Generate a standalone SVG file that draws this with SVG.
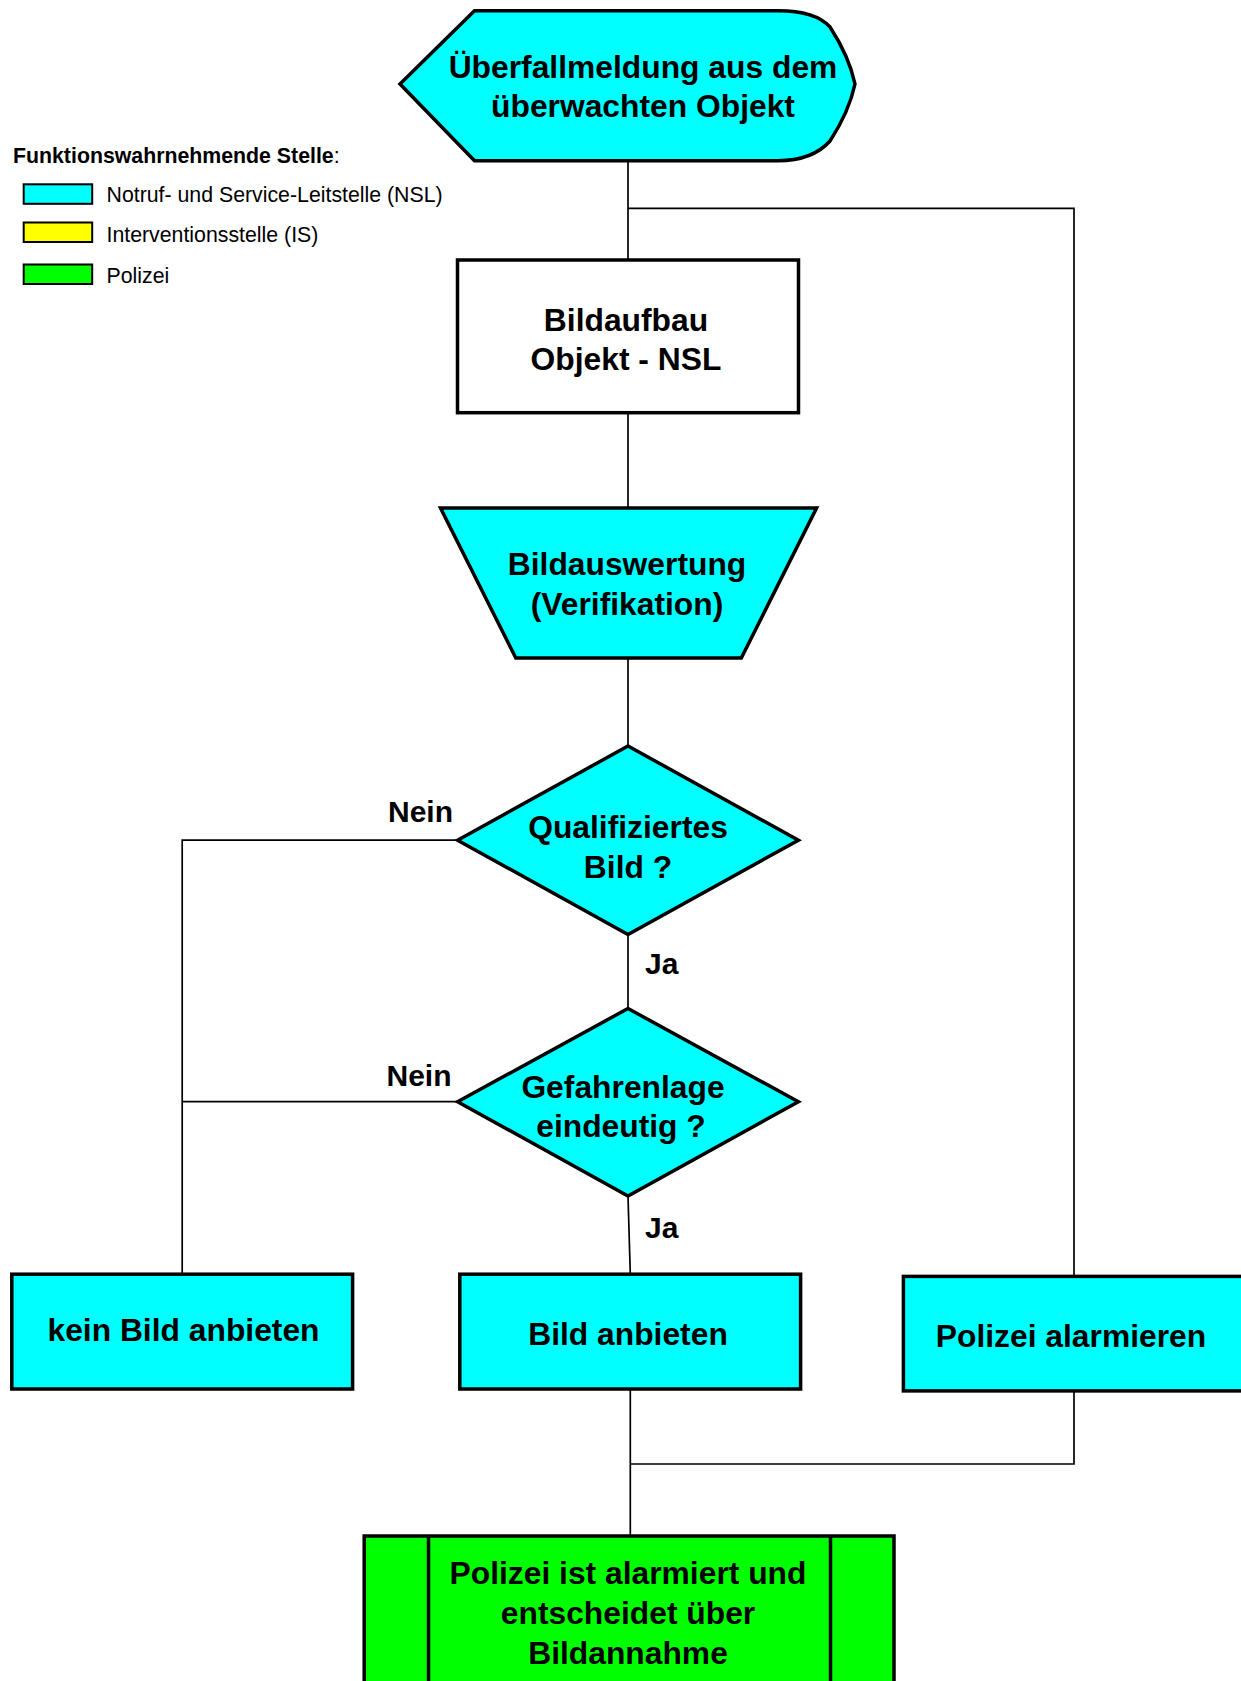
<svg xmlns="http://www.w3.org/2000/svg" width="1241" height="1681" viewBox="0 0 1241 1681">
<style>
.node{stroke:#000;stroke-width:3.5;stroke-linejoin:miter}
.cyan{fill:#00FFFF}
.green{fill:#00FF00}
.white{fill:#FFFFFF}
.conn{fill:none;stroke:#000;stroke-width:1.7}
.t{font-family:"Liberation Sans",Arial,sans-serif;font-weight:bold;font-size:31.8px;fill:#000;text-anchor:middle}
.lbl{font-family:"Liberation Sans",Arial,sans-serif;font-weight:bold;font-size:30px;fill:#000}
.leg{font-family:"Liberation Sans",Arial,sans-serif;font-size:21.3px;fill:#000}
.legbox{stroke:#000;stroke-width:2}
</style>
<rect width="1241" height="1681" fill="#FFFFFF"/>
<g id="connectors">
<path class="conn" d="M628,160.7 V260"/>
<path class="conn" d="M628,208.3 H1074 V1276.4"/>
<path class="conn" d="M628,412.7 V508"/>
<path class="conn" d="M628,658 V746"/>
<path class="conn" d="M628,934.5 V1008.5"/>
<path class="conn" d="M457.6,840.2 H182.2 V1274.2"/>
<path class="conn" d="M457.6,1101.7 H182.2"/>
<path class="conn" d="M628,1196 L630.3,1274.2"/>
<path class="conn" d="M630.3,1389 V1536"/>
<path class="conn" d="M1074,1391 V1464 H630.3"/>
</g>
<g id="legend">
<text class="leg" x="13" y="163" font-size="21.6"><tspan font-weight="bold">Funktionswahrnehmende Stelle</tspan>:</text>
<rect class="legbox cyan" x="23.7" y="184.3" width="68.5" height="19.5"/>
<text class="leg" x="106.5" y="202">Notruf- und Service-Leitstelle (NSL)</text>
<rect class="legbox" fill="#FFFF00" x="23.7" y="222.5" width="68.5" height="19.5"/>
<text class="leg" x="106.5" y="242">Interventionsstelle (IS)</text>
<rect class="legbox green" x="23.7" y="264.5" width="68.5" height="19.5"/>
<text class="leg" x="106.5" y="283">Polizei</text>
</g>
<g id="start">
<path class="node cyan" d="M400,84 L474.5,10.7 H778 C808,10.7 822,18 830,27 C845,50 852,70 855,84 C852,98 845,118 830,141 C822,150 808,160.7 778,160.7 H474.5 Z"/>
<text class="t" x="643" y="77.5">Überfallmeldung aus dem</text>
<text class="t" x="643" y="117">überwachten Objekt</text>
</g>
<g id="bildaufbau">
<rect class="node white" x="457.5" y="260" width="341" height="152.7"/>
<text class="t" x="626" y="330.7">Bildaufbau</text>
<text class="t" x="626" y="370">Objekt - NSL</text>
</g>
<g id="bildauswertung">
<path class="node cyan" d="M440.5,508 H816.6 L741.3,658 H515.8 Z"/>
<text class="t" x="627" y="575">Bildauswertung</text>
<text class="t" x="627" y="615">(Verifikation)</text>
</g>
<g id="qualifiziert">
<path class="node cyan" d="M628,746 L798.4,840.2 L628,934.5 L457.6,840.2 Z"/>
<text class="t" x="628" y="837.5">Qualifiziertes</text>
<text class="t" x="628" y="877.5">Bild ?</text>
</g>
<g id="gefahrenlage">
<path class="node cyan" d="M628,1008.5 L798.4,1101.7 L628,1196 L457.6,1101.7 Z"/>
<text class="t" x="623" y="1098.3">Gefahrenlage</text>
<text class="t" x="621" y="1137">eindeutig ?</text>
</g>
<g id="labels">
<text class="lbl" x="453" y="822" text-anchor="end">Nein</text>
<text class="lbl" x="451.5" y="1086" text-anchor="end">Nein</text>
<text class="lbl" x="645" y="973.5">Ja</text>
<text class="lbl" x="645" y="1237.5">Ja</text>
</g>
<g id="kein-bild">
<rect class="node cyan" x="11.8" y="1274.2" width="340.8" height="114.8"/>
<text class="t" x="183.5" y="1341">kein Bild anbieten</text>
</g>
<g id="bild-anbieten">
<rect class="node cyan" x="459.8" y="1274.2" width="340.8" height="114.8"/>
<text class="t" x="628" y="1345">Bild anbieten</text>
</g>
<g id="polizei-alarmieren">
<rect class="node cyan" x="903.4" y="1276.4" width="341" height="114.5"/>
<text class="t" x="1071" y="1346.7">Polizei alarmieren</text>
</g>
<g id="polizei-entscheidet">
<rect class="node green" x="364.2" y="1536" width="529.8" height="200"/>
<path class="node" fill="none" d="M428.5,1536 V1690 M830.5,1536 V1690"/>
<text class="t" x="628" y="1584">Polizei ist alarmiert und</text>
<text class="t" x="628" y="1624">entscheidet über</text>
<text class="t" x="628" y="1664">Bildannahme</text>
</g>
</svg>
